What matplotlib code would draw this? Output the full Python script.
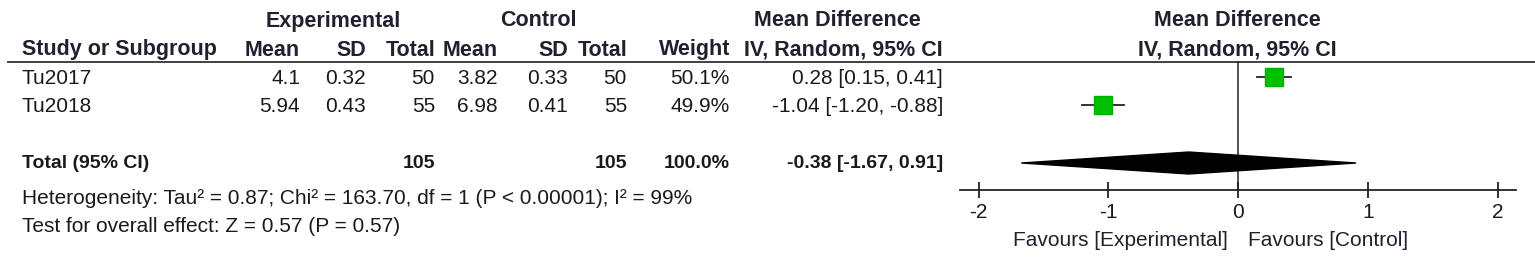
import matplotlib.pyplot as plt

plt.rcParams["axes.unicode_minus"] = False

# study data
studies = ["Tu2017", "Tu2018"]
exp_mean = ["4.1", "5.94"]
exp_sd = ["0.32", "0.43"]
exp_n = [50, 55]
ctl_mean = ["3.82", "6.98"]
ctl_sd = ["0.33", "0.41"]
ctl_n = [50, 55]
weights = ["50.1%", "49.9%"]
md = [0.28, -1.04]
ci_lo = [0.15, -1.20]
ci_hi = [0.41, -0.88]

total_exp_n = 105
total_ctl_n = 105
total_md = -0.38
total_lo = -1.67
total_hi = 0.91

xticks = [-2, -1, 0, 1, 2]
heterogeneity = "Heterogeneity: Tau\u00b2 = 0.87; Chi\u00b2 = 163.70, df = 1 (P < 0.00001); I\u00b2 = 99%"
overall = "Test for overall effect: Z = 0.57 (P = 0.57)"

W, H = 1535, 267
fig = plt.figure(figsize=(W / 100, H / 100), dpi=100)
fig.patch.set_facecolor("white")

tab = fig.add_axes([0, 0, 1, 1])
tab.set_xlim(0, W)
tab.set_ylim(H, 0)
tab.axis("off")

txt = "#1a1a1a"
hdr = "#20202e"
fs = 15
fs_b = 15.5
regular = ["Liberation Sans", "DejaVu Sans"]

def put(x, y, s, ha="right", bold=False, color=txt, size=None):
    if size is None:
        size = fs_b if bold else fs
    tab.text(x, y, s, ha=ha, va="center", fontsize=size, family=regular,
             fontweight="bold" if bold else "normal", color=color)

# headers
put(333, 21, "Experimental", ha="center", bold=True, color=hdr)
put(538, 21, "Control", ha="center", bold=True, color=hdr)
put(837, 21, "Mean Difference", ha="center", bold=True, color=hdr)
put(1237, 21, "Mean Difference", ha="center", bold=True, color=hdr)

row_h = 50
put(22, row_h, "Study or Subgroup", ha="left", bold=True, color=hdr)
cols = [300, 366, 435, 498, 568, 627, 730, 943]
heads = ["Mean", "SD", "Total", "Mean", "SD", "Total", "Weight", "IV, Random, 95% CI"]
for x, h in zip(cols, heads):
    put(x, row_h, h, bold=True, color=hdr)
put(1237, row_h, "IV, Random, 95% CI", ha="center", bold=True, color=hdr)

tab.plot([8, W], [62, 62], color="#333333", lw=1.3)

rows_y = [78, 106]
for i, y in enumerate(rows_y):
    put(22, y, studies[i], ha="left")
    vals = [exp_mean[i], exp_sd[i], exp_n[i], ctl_mean[i], ctl_sd[i], ctl_n[i],
            weights[i], f"{md[i]:.2f} [{ci_lo[i]:.2f}, {ci_hi[i]:.2f}]"]
    for x, v in zip(cols, vals):
        put(x, y, str(v))

ty = 163
tsz = 14
put(22, ty, "Total (95% CI)", ha="left", bold=True, size=tsz)
put(cols[2], ty, str(total_exp_n), bold=True, size=tsz)
put(cols[5], ty, str(total_ctl_n), bold=True, size=tsz)
put(cols[6], ty, "100.0%", bold=True, size=tsz)
put(cols[7], ty, f"{total_md:.2f} [{total_lo:.2f}, {total_hi:.2f}]", bold=True, size=tsz)

put(22, 199, heterogeneity, ha="left")
put(22, 227, overall, ha="left")

# forest plot in its own axes, mean difference on x
left_px, right_px = 950, W
zero_px, unit_px = 1238, 129.75
fa = fig.add_axes([left_px / W, 0, (right_px - left_px) / W, 1])
fa.set_xlim((left_px - zero_px) / unit_px, (right_px - zero_px) / unit_px)
fa.set_ylim(H, 0)
fa.patch.set_alpha(0)

axis_y = 190
for s in ["top", "left", "right"]:
    fa.spines[s].set_visible(False)
fa.spines["bottom"].set_position(("data", axis_y))
fa.spines["bottom"].set_bounds(-2.14, 2.14)
fa.spines["bottom"].set_linewidth(1.3)
fa.spines["bottom"].set_color("#222222")
fa.set_yticks([])
fa.set_xticks(xticks)
fa.set_xticklabels([str(t) for t in xticks], family=regular, fontsize=fs, color=txt)
fa.tick_params(axis="x", direction="inout", length=12, width=1.3, color="#222222", pad=3)

fa.plot([0, 0], [62, axis_y], color="#222222", lw=1.1)

for i, y in enumerate(rows_y):
    fa.plot([ci_lo[i], ci_hi[i]], [y - 1, y - 1], color="#222222", lw=1.3, zorder=2)
    fa.plot(md[i], y - 1, marker="s", markersize=13.5, color="#00c000", mec="#00b000", zorder=3)

dh = 11
fa.fill([total_lo, total_md, total_hi, total_md], [ty, ty - dh, ty, ty + dh],
        color="black", zorder=3)

fa.text(-0.08, 241, "Favours [Experimental]", ha="right", va="center", fontsize=fs, family=regular, color=hdr)
fa.text(0.08, 241, "Favours [Control]", ha="left", va="center", fontsize=fs, family=regular, color=hdr)

fig.savefig("out.png", dpi=100)
